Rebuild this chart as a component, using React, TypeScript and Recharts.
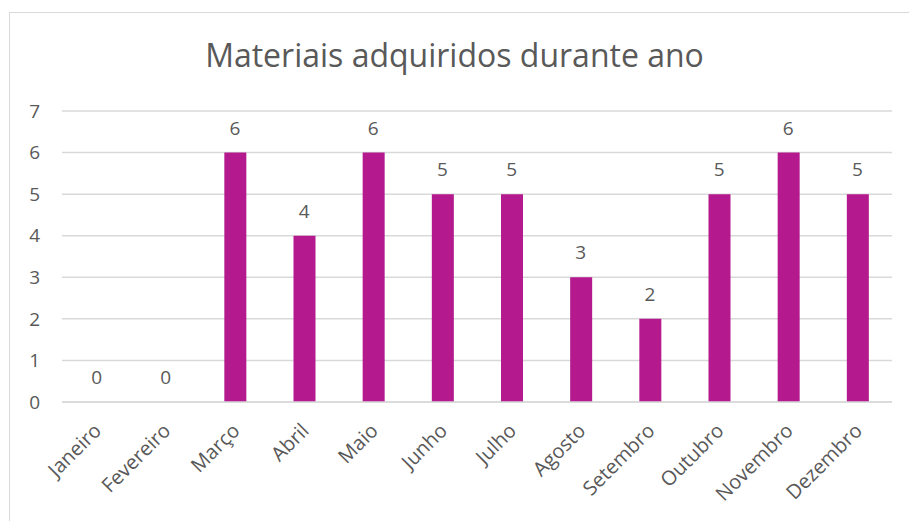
import React from "react"
import { Bar, ComposedChart, CartesianGrid, LabelList, Line, XAxis, YAxis } from "recharts"

const months = [
  "Janeiro", "Fevereiro", "Março", "Abril", "Maio", "Junho",
  "Julho", "Agosto", "Setembro", "Outubro", "Novembro", "Dezembro",
]
const quantities = [0, 0, 6, 4, 6, 5, 5, 3, 2, 5, 6, 5]
const yTicks = [0, 1, 2, 3, 4, 5, 6, 7]

const data = months.map((mes, i) => ({ mes, valor: quantities[i] }))

const font = "'Open Sans', 'Noto Sans', sans-serif"
const textColor = "#595959"

// rotated month names, anchored at their end like Excel does
const MonthTick = ({ x, y, payload }: any) => (
  <text
    x={x + 6}
    y={y + 22}
    transform={`rotate(-45, ${x + 6}, ${y + 22})`}
    textAnchor="end"
    fill={textColor}
    fontSize={20}
    fontFamily={font}
  >
    {payload.value}
  </text>
)

export default function App() {
  return (
    <div style={{ position: "absolute", left: 0, top: 0, width: 909, height: 521, background: "#fff", overflow: "hidden" }}>
      <div
        style={{
          position: "absolute",
          left: 9,
          top: 12,
          width: 920,
          height: 520,
          borderLeft: "1px solid #d9d9d9",
          borderTop: "1px solid #d9d9d9",
        }}
      />
      <div
        style={{
          position: "absolute",
          left: 0,
          top: 33,
          width: 909,
          textAlign: "center",
          fontFamily: font,
          fontSize: 32,
          color: textColor,
        }}
      >
        Materiais adquiridos durante ano
      </div>
      <div style={{ position: "absolute", left: 0, top: 0 }}>
        <ComposedChart
          width={909}
          height={521}
          data={data}
          margin={{ top: 111, right: 17, left: 0, bottom: 0 }}
          barSize={22}
        >
          <CartesianGrid vertical={false} stroke="#d9d9d9" strokeWidth={1.5} />
          <XAxis
            dataKey="mes"
            height={119}
            axisLine={{ stroke: "#d9d9d9", strokeWidth: 1.5 }}
            tickLine={false}
            interval={0}
            tick={<MonthTick />}
          />
          <YAxis
            width={62}
            domain={[0, 7]}
            ticks={yTicks}
            axisLine={false}
            tickLine={false}
            tickSize={0}
            tickMargin={22}
            tick={{ fill: textColor, fontSize: 19, fontFamily: font }}
          />
          <Bar dataKey="valor" fill="#B4198E" isAnimationActive={false} />
          {/* invisible line only to carry the value labels, zeros included */}
          <Line
            dataKey="valor"
            stroke="none"
            dot={false}
            activeDot={false}
            isAnimationActive={false}
          >
            <LabelList
              dataKey="valor"
              position="top"
              offset={18}
              fill={textColor}
              fontSize={19}
              fontFamily={font}
            />
          </Line>
        </ComposedChart>
      </div>
    </div>
  )
}
